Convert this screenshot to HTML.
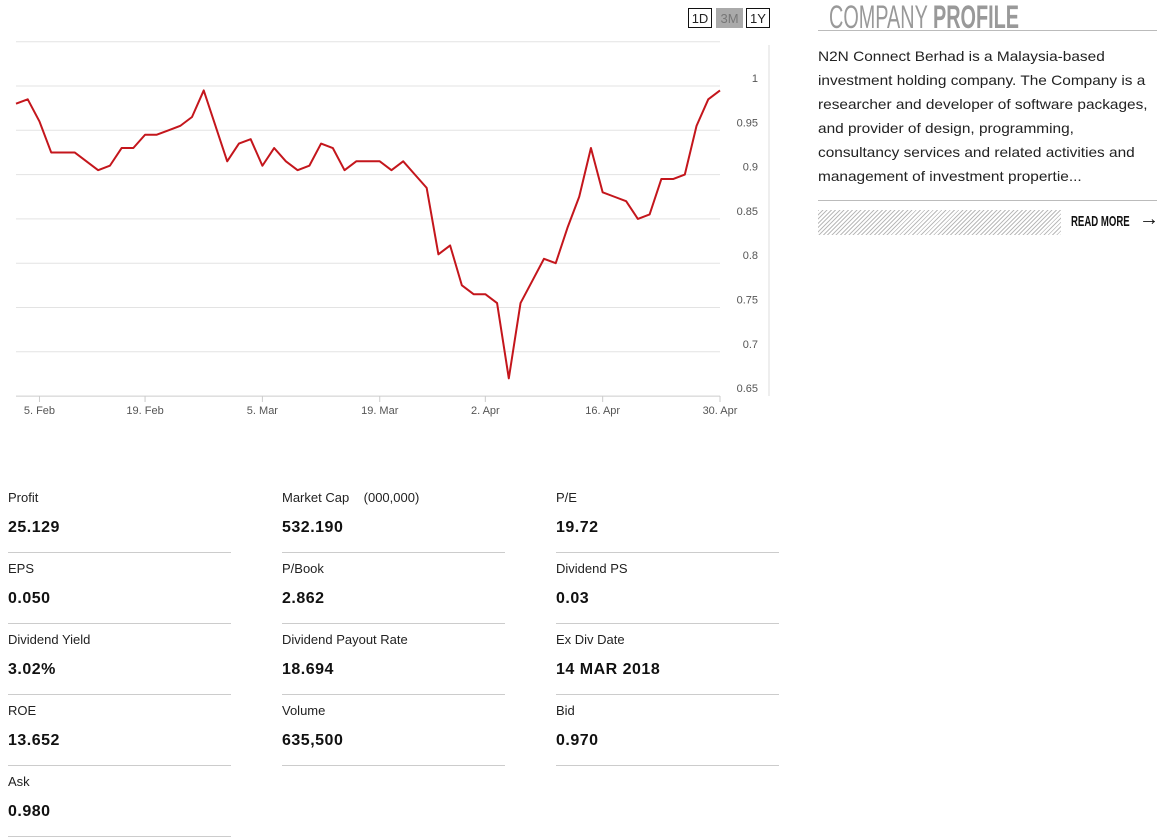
<!DOCTYPE html>
<html><head><meta charset="utf-8"><style>
body{margin:0;width:1160px;height:838px;background:#fff;font-family:"Liberation Sans",sans-serif;color:#222;position:relative;overflow:hidden}
.abs{position:absolute}
.btn{position:absolute;top:8px;height:20px;border:1px solid #111;font:13px "Liberation Sans",sans-serif;text-align:center;line-height:20px;box-sizing:border-box}
.cell{position:absolute;width:223px;height:71px;border-bottom:1px solid #ccc;box-sizing:border-box}
.lab{position:absolute;top:8px;left:0;font-size:13px;color:#222}
.val{position:absolute;top:37px;left:0;font-size:16px;font-weight:bold;color:#111;letter-spacing:.5px}
</style></head><body>
<div class="btn" style="left:688px;width:24px">1D</div>
<div class="btn" style="left:716px;width:27px;background:#aaa;border-color:#aaa;color:#777">3M</div>
<div class="btn" style="left:746px;width:24px">1Y</div>
<svg class="abs" style="left:0;top:0" width="780" height="430" id="chart"></svg>

<div class="abs" style="left:829px;top:-1px;font:32px 'Liberation Sans',sans-serif;color:#999;white-space:nowrap;transform:scaleX(0.62);transform-origin:0 0">COMPANY <b>PROFILE</b></div>
<div class="abs" style="left:818px;top:30px;width:339px;border-top:1px solid #bbb"></div>
<div class="abs" style="left:818px;top:44px;font-size:14px;line-height:24px;color:#222;white-space:nowrap;transform:scaleX(1.1);transform-origin:0 0">N2N Connect Berhad is a Malaysia-based<br>investment holding company. The Company is a<br>researcher and developer of software packages,<br>and provider of design, programming,<br>consultancy services and related activities and<br>management of investment propertie...</div>
<div class="abs" style="left:818px;top:200px;width:339px;border-top:1px solid #bbb"></div>
<div class="abs" style="left:818px;top:210px;width:243px;height:25px;background:repeating-linear-gradient(135deg,#bbb 0 1px,#fff 1px 3px)"></div>
<div class="abs" style="left:1071px;top:213px;font:bold 15px 'Liberation Sans',sans-serif;color:#111;white-space:nowrap;transform:scaleX(0.64);transform-origin:0 0">READ MORE</div>
<div class="abs" style="left:1139px;top:208px;font:bold 20px 'Liberation Sans',sans-serif;color:#111">→</div>

<div id="stats"></div>
<script>
const dates=["5. Feb","19. Feb","5. Mar","19. Mar","2. Apr","16. Apr","30. Apr"];
const dateIdx=[2,11,21,31,40,50,60];
const yTicks=[0.65,0.7,0.75,0.8,0.85,0.9,0.95,1];
const prices=[0.980,0.985,0.960,0.925,0.925,0.925,0.915,0.905,0.910,0.930,0.930,0.945,0.945,0.950,0.955,0.965,0.995,0.955,0.915,0.935,0.940,0.910,0.930,0.915,0.905,0.910,0.935,0.930,0.905,0.915,0.915,0.915,0.905,0.915,0.900,0.885,0.810,0.820,0.775,0.765,0.765,0.755,0.670,0.755,0.780,0.805,0.800,0.840,0.875,0.930,0.880,0.875,0.870,0.850,0.855,0.895,0.895,0.900,0.955,0.985,0.995];
const ns="http://www.w3.org/2000/svg";
const svg=document.getElementById('chart');
const x=i=>16+i*(704/60);
const y=v=>86+(1-v)*886;
function mk(t,a){const e=document.createElementNS(ns,t);for(const k in a)e.setAttribute(k,a[k]);svg.appendChild(e);return e;}
let g=mk('line',{x1:16,x2:720,y1:y(1.05),y2:y(1.05),stroke:'#e3e3e3'});


yTicks.forEach(v=>{
 const l=mk('line',{x1:16,x2:720,y1:y(v),y2:y(v),stroke:v==0.65?'#ccc':'#e3e3e3'});
 
 
 const t=mk('text',{x:758,y:y(v)-4,'text-anchor':'end','font-size':'11','fill':'#555','font-family':'Liberation Sans, sans-serif'});
 t.textContent=String(v);
 
 
});
let vl=mk('line',{x1:769,x2:769,y1:45,y2:396,stroke:'#ddd'});


dates.forEach((d,k)=>{
 const xi=x(dateIdx[k]);
 const tk=mk('line',{x1:xi,x2:xi,y1:396,y2:402,stroke:'#ccc'});
 
 
 const t=mk('text',{x:xi,y:414,'text-anchor':'middle','font-size':'11','fill':'#555','font-family':'Liberation Sans, sans-serif'});
 t.textContent=d;
 
 
});
const p=mk('polyline',{points:prices.map((v,i)=>x(i)+','+y(v)).join(' '),fill:'none',stroke:'#c4161c','stroke-width':2,'stroke-linejoin':'round'});



const stats=[["Profit","25.129"],["Market Cap &nbsp;&nbsp;&nbsp;(000,000)","532.190"],["P/E","19.72"],["EPS","0.050"],["P/Book","2.862"],["Dividend PS","0.03"],["Dividend Yield","3.02%"],["Dividend Payout Rate","18.694"],["Ex Div Date","14 MAR 2018"],["ROE","13.652"],["Volume","635,500"],["Bid","0.970"],["Ask","0.980"]];
const st=document.getElementById('stats');
stats.forEach((s,i)=>{
 const c=document.createElement('div');
 c.className='cell';
 c.style.left=(8+(i%3)*274)+'px';
 c.style.top=(482+Math.floor(i/3)*71)+'px';
 c.innerHTML='<div class="lab">'+s[0]+'</div><div class="val">'+s[1]+'</div>';
 
 
 st.appendChild(c);
});
</script>
</body></html>
